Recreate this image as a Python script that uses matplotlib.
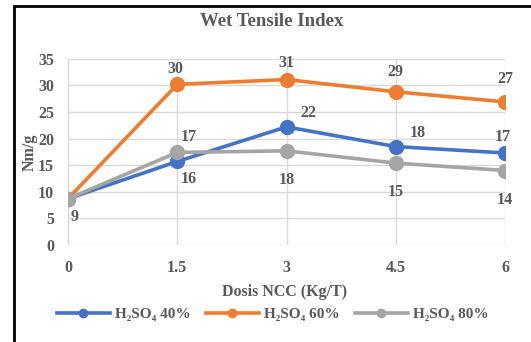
import matplotlib
matplotlib.use("Agg")
import matplotlib.pyplot as plt
from matplotlib.patches import Rectangle

x = [0, 1.5, 3, 4.5, 6]
xtick_labels = ["0", "1.5", "3", "4.5", "6"]
s40 = [8.7, 15.7, 22.2, 18.5, 17.3]
s60 = [8.7, 30.2, 31.1, 28.8, 26.9]
s80 = [8.7, 17.4, 17.7, 15.4, 14.0]
lab40 = ["9", "16", "22", "18", "17"]
lab60 = ["", "30", "31", "29", "27"]
lab80 = ["", "17", "18", "15", "14"]
names = ["H₂SO₄ 40%", "H₂SO₄ 60%", "H₂SO₄ 80%"]
colors = ["#4472C4", "#ED7D31", "#A5A5A5"]

plt.rcParams['font.family'] = ['Liberation Serif', 'DejaVu Serif']
txt = "#595959"

W, H = 531, 342
L, R, T, B = 68, 505, 58.8, 245
fig = plt.figure(figsize=(W/100, H/100), dpi=100)
ax = fig.add_axes([L/W, 1-B/H, (R-L)/W, (B-T)/H])

for ys, c, n in zip([s40, s60, s80], colors, names):
    ax.plot(x, ys, color=c, lw=2.6, marker='o', ms=10, label=n, zorder=3)

# data label offsets in pixels (dx, dy up positive)
px = 0.72
off40 = [(7, -18), (11, -18), (22, 14), (22, 14), (-2, 16)]
off60 = [(0, 0), (-2, 15), (0, 17), (0, 20), (0, 23)]
off80 = [(0, 0), (11, 15), (0, -29), (0, -29), (0, -29)]
for ys, labs, offs in [(s40, lab40, off40), (s60, lab60, off60), (s80, lab80, off80)]:
    for xi, yi, l, o in zip(x, ys, labs, offs):
        if l:
            ax.annotate(l, (xi, yi), xytext=(o[0]*px, o[1]*px), textcoords='offset points',
                        ha='center', va='center', fontsize=11.5, fontweight='bold', color=txt,
                        annotation_clip=False)

ax.set_xlim(0, 6)
ax.set_ylim(0, 35)
ax.set_xticks(x)
ax.set_xticklabels(xtick_labels)
ax.set_yticks(range(0, 36, 5))
ax.grid(True, color="#D9D9D9", lw=1)
ax.set_axisbelow(True)
for s in ax.spines.values():
    s.set_visible(False)
ax.tick_params(axis='x', length=0, labelsize=11.5, labelcolor=txt, pad=11)
ax.tick_params(axis='y', length=0, labelsize=11.5, labelcolor=txt, pad=10)
for t in ax.get_xticklabels() + ax.get_yticklabels():
    t.set_fontweight('bold')

ax.set_xlabel("Dosis NCC (Kg/T)", fontsize=11.5, fontweight='bold', color=txt)
ax.xaxis.set_label_coords((285-L)/(R-L), -(292-B)/(B-T))
ax.xaxis.label.set_va('center')
ax.set_ylabel("Nm/g", fontsize=11.5, fontweight='bold', color=txt)
ax.yaxis.set_label_coords(-(L-38)/(R-L), 0.5)

fig.text(272/W, 1-22/H, "Wet Tensile Index", ha='center', va='center',
         fontsize=13.5, fontweight='bold', color=txt)

leg = fig.legend(loc='center', bbox_to_anchor=(272.5/W, 1-314/H), ncol=3,
                 frameon=False, handlelength=3.5, columnspacing=1.0,
                 handletextpad=0.3, prop={'weight': 'bold', 'size': 11})
for t in leg.get_texts():
    t.set_color(txt)
for h in leg.legend_handles:
    h.set_markersize(6)

fig.patches.append(Rectangle((13.5/W, -0.1), 1.2, 1 - 6/H + 0.1, transform=fig.transFigure,
                             fill=False, edgecolor='black', lw=2))

fig.savefig("out.png", dpi=100)
